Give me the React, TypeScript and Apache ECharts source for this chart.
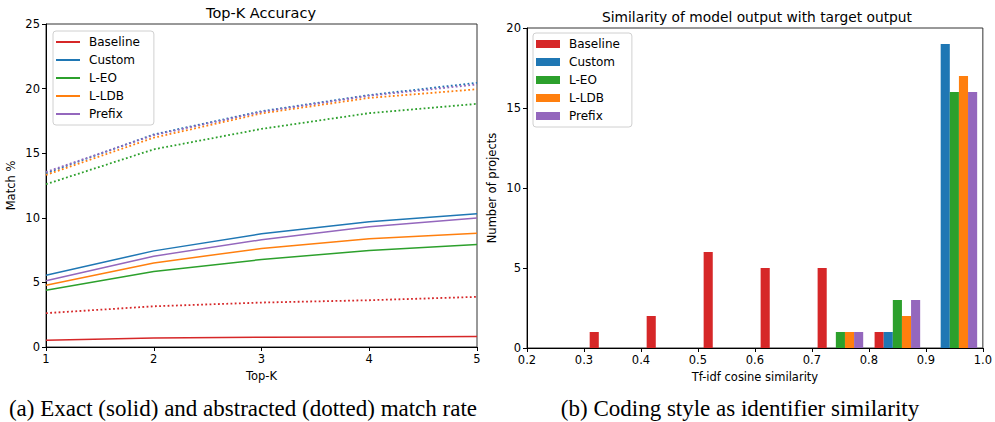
import React, { useEffect, useRef } from "react";
import * as echarts from "echarts";

const names = ["Baseline", "Custom", "L-EO", "L-LDB", "Prefix"];
const colors = ["#d62728", "#1f77b4", "#2ca02c", "#ff7f0e", "#9467bd"];

const topK = [1, 2, 3, 4, 5];
// exact (solid)
const exactBaseline = [0.52, 0.7, 0.75, 0.78, 0.82];
const exactCustom = [5.56, 7.44, 8.76, 9.69, 10.31];
const exactLEO = [4.4, 5.84, 6.77, 7.47, 7.94];
const exactLLDB = [4.78, 6.51, 7.63, 8.37, 8.81];
const exactPrefix = [5.12, 7.03, 8.3, 9.3, 9.98];
// abstracted (dotted)
const absBaseline = [2.62, 3.15, 3.44, 3.62, 3.88];
const absCustom = [13.45, 16.45, 18.25, 19.5, 20.45];
const absLEO = [12.6, 15.3, 16.88, 18.1, 18.82];
const absLLDB = [13.32, 16.2, 18.08, 19.28, 19.95];
const absPrefix = [13.55, 16.4, 18.2, 19.45, 20.32];

// histogram
const binStarts = [0.3, 0.4, 0.5, 0.6, 0.7, 0.8, 0.9];
const binWidth = 0.1;
const histBaseline = [1, 2, 6, 5, 5, 1, 0];
const histCustom = [0, 0, 0, 0, 0, 1, 19];
const histLEO = [0, 0, 0, 0, 1, 3, 16];
const histLLDB = [0, 0, 0, 0, 1, 2, 17];
const histPrefix = [0, 0, 0, 0, 1, 3, 16];

const exactAll = [exactBaseline, exactCustom, exactLEO, exactLLDB, exactPrefix];
const absAll = [absBaseline, absCustom, absLEO, absLLDB, absPrefix];
const histAll = [histBaseline, histCustom, histLEO, histLLDB, histPrefix];

const FONT = "DejaVu Sans";

export default function App() {
  const ref = useRef<HTMLDivElement>(null);
  useEffect(() => {
    if (!ref.current) return;
    const chart = echarts.init(ref.current, undefined, { renderer: "svg" });

    const axisCommon = {
      axisLine: { show: true, lineStyle: { color: "#000", width: 1 } },
      axisTick: { show: true, inside: false, length: 4, lineStyle: { color: "#000" } },
      axisLabel: { color: "#000", fontSize: 11.5, fontFamily: FONT, margin: 6 },
      splitLine: { show: false },
      nameTextStyle: { color: "#000", fontSize: 11.5, fontFamily: FONT },
      nameLocation: "middle" as const,
    };

    const series: any[] = [];
    names.forEach((n, k) => {
      series.push({
        type: "line",
        name: n,
        xAxisIndex: 0,
        yAxisIndex: 0,
        data: topK.map((x, i) => [x, exactAll[k][i]]),
        showSymbol: false,
        symbol: "none",
        lineStyle: { color: colors[k], width: 1.5 },
        itemStyle: { color: colors[k] },
        z: 3,
      });
    });
    names.forEach((n, k) => {
      series.push({
        type: "line",
        name: n,
        xAxisIndex: 0,
        yAxisIndex: 0,
        data: topK.map((x, i) => [x, absAll[k][i]]),
        showSymbol: false,
        symbol: "none",
        lineStyle: { color: colors[k], width: 1.8, type: [1.8, 2.4] },
        itemStyle: { color: colors[k] },
        z: 3,
      });
    });
    names.forEach((n, k) => {
      series.push({
        type: "custom",
        name: n,
        xAxisIndex: 1,
        yAxisIndex: 1,
        data: binStarts.map((b, i) => [b, histAll[k][i]]),
        encode: { x: 0, y: 1 },
        itemStyle: { color: colors[k] },
        renderItem: (params: any, api: any) => {
          const b = api.value(0);
          const c = api.value(1);
          if (!c) return null;
          const w = (binWidth * 0.8) / names.length;
          const x0 = b + binWidth * 0.1 + k * w;
          const p0 = api.coord([x0, c]);
          const p1 = api.coord([x0 + w, 0]);
          return {
            type: "rect",
            shape: { x: p0[0], y: p0[1], width: p1[0] - p0[0], height: p1[1] - p0[1] },
            style: { fill: colors[k] },
          };
        },
      });
    });

    const legendCommon = {
      orient: "vertical" as const,
      data: names,
      backgroundColor: "#fff",
      borderColor: "#d0d0d0",
      borderWidth: 1,
      borderRadius: 3,
      itemWidth: 24,
      itemGap: 4,
      icon: "rect",
      textStyle: { color: "#000", fontSize: 12, lineHeight: 14, fontFamily: FONT, padding: [0, 0, 0, 4] },
      selectedMode: false,
    };

    chart.setOption({
      animation: false,
      grid: [
        { left: 46, top: 24, width: 431, height: 323, show: true, borderColor: "#333", borderWidth: 1 },
        { left: 527, top: 28, width: 459, height: 320, show: true, borderColor: "#333", borderWidth: 1 },
      ],
      xAxis: [
        {
          ...axisCommon,
          type: "value",
          gridIndex: 0,
          min: 1,
          max: 5,
          interval: 1,
          name: "Top-K",
          nameGap: 22,
        },
        {
          ...axisCommon,
          type: "value",
          gridIndex: 1,
          min: 0.2,
          max: 1.0,
          interval: 0.1,
          name: "Tf-idf cosine similarity",
          nameGap: 23,
          axisLabel: { ...axisCommon.axisLabel, formatter: (v: number) => v.toFixed(1) },
        },
      ],
      yAxis: [
        {
          ...axisCommon,
          type: "value",
          gridIndex: 0,
          min: 0,
          max: 25,
          interval: 5,
          name: "Match %",
          nameGap: 29,
        },
        {
          ...axisCommon,
          type: "value",
          gridIndex: 1,
          min: 0,
          max: 20,
          interval: 5,
          name: "Number of projects",
          nameGap: 29,
        },
      ],
      legend: [
        { ...legendCommon, left: 53, top: 31, itemHeight: 2, padding: [4, 14, 4, 3] },
        { ...legendCommon, left: 533, top: 33, itemHeight: 8, padding: [4, 12, 4, 3] },
      ],
      graphic: [
        {
          type: "text",
          x: 261,
          y: 13,
          style: { text: "Top-K Accuracy", fontSize: 14.5, fontFamily: FONT, fill: "#000", textAlign: "center", textVerticalAlign: "middle" },
        },
        {
          type: "text",
          x: 757,
          y: 17,
          style: {
            text: "Similarity of model output with target output",
            fontSize: 13.8,
            fontFamily: FONT,
            fill: "#000",
            textAlign: "center",
            textVerticalAlign: "middle",
          },
        },
        {
          type: "text",
          x: 243,
          y: 408,
          style: {
            text: "(a) Exact (solid) and abstracted (dotted) match rate",
            fontSize: 23,
            fontFamily: "Liberation Serif",
            fill: "#000",
            textAlign: "center",
            textVerticalAlign: "middle",
          },
        },
        {
          type: "text",
          x: 740,
          y: 408,
          style: {
            text: "(b) Coding style as identifier similarity",
            fontSize: 23,
            fontFamily: "Liberation Serif",
            fill: "#000",
            textAlign: "center",
            textVerticalAlign: "middle",
          },
        },
      ],
      series,
    });
    return () => chart.dispose();
  }, []);
  return (
    <div
      ref={ref}
      style={{ position: "absolute", left: 0, top: 0, width: 995, height: 422, background: "#fff" }}
    />
  );
}
